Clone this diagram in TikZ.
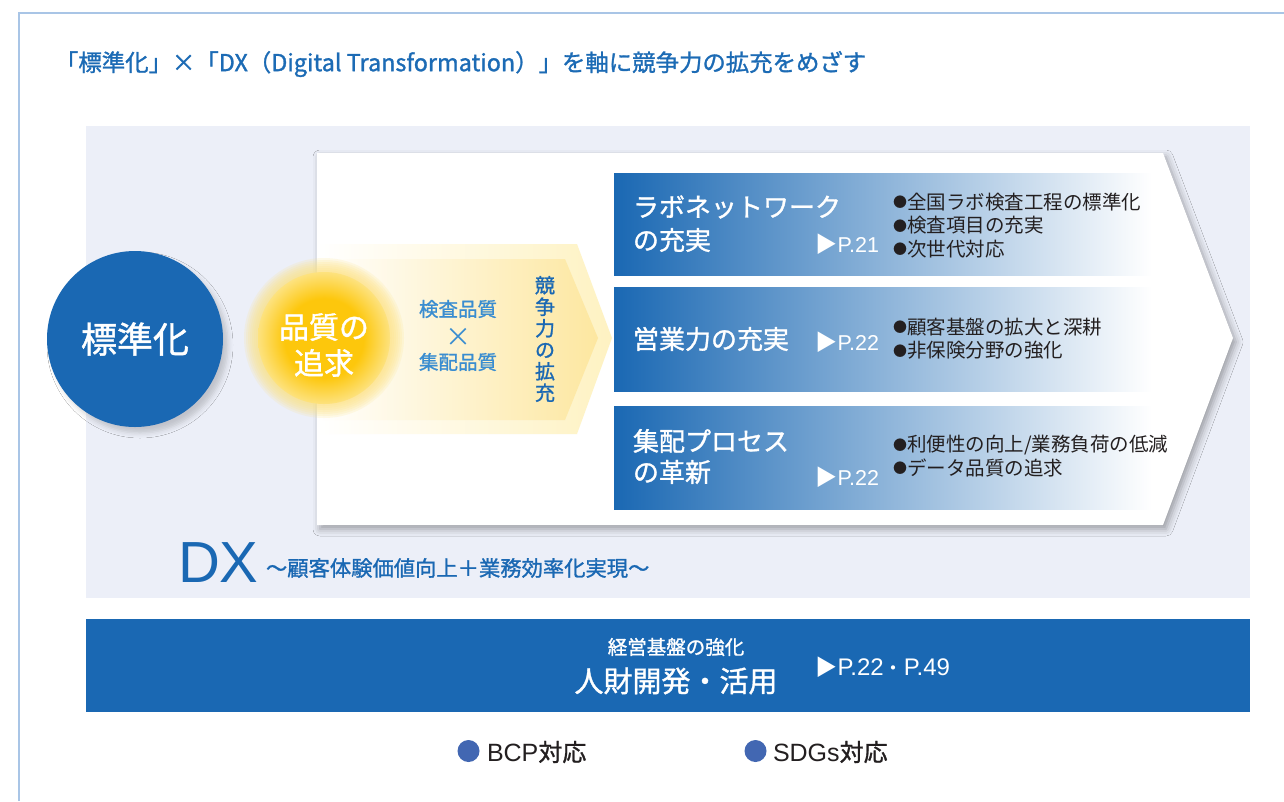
\documentclass[tikz,border=0pt]{standalone}
\usepackage{fontspec}
\setmainfont{Noto Sans CJK JP}
\newfontfamily\jpm{Noto Sans CJK JP}[FakeBold=1.2]
\newfontfamily\lat{Liberation Sans}
\usetikzlibrary{shadows,shadows.blur}
\definecolor{dxblue}{HTML}{1A68B3}
\definecolor{titleblue}{HTML}{1C6BB5}
\definecolor{panelbg}{HTML}{ECEFF8}
\definecolor{framecol}{HTML}{A9C5E6}
\definecolor{ltblue}{HTML}{3A8DD0}
\definecolor{darktext}{HTML}{231F20}
\definecolor{dotblue}{HTML}{4267B2}
\definecolor{goldA}{HTML}{FDC70C}
\definecolor{goldB}{HTML}{FDE27E}
\definecolor{yelA}{HTML}{FEF2C2}
\definecolor{yelB}{HTML}{FDE7A0}
\pgfdeclareradialshading{goldglow}{\pgfpoint{0bp}{0bp}}{color(0bp)=(goldA); color(15bp)=(goldA); color(25bp)=(goldB); color(50bp)=(goldB)}
\newcommand{\fs}[2]{\fontsize{#1}{#2}\selectfont}
\newcommand{\bul}{\makebox[14pt][l]{\raisebox{1.5pt}{\fs{14}{14}●}}}
\newcommand{\tri}{{\rmfamily\fs{22}{22}▶}\kern0.5pt}
\tikzset{
  every node/.style={inner sep=0pt, outer sep=0pt},
  bluebox/.style={left color=dxblue, right color=white},
  boxhead/.style={anchor=west, text=white, font=\jpm\fs{26}{32}, align=left},
  pageref/.style={anchor=west, text=white, font=\lat\fs{21.5}{22}},
  bullets/.style={anchor=west, text=darktext, font=\fs{19.5}{23.5}, align=left},
  mysoftshadow/.style={blur shadow={shadow xshift=3pt, shadow yshift=-4pt, shadow blur radius=7pt, shadow opacity=35}},
}
\begin{document}
\begin{tikzpicture}[x=1pt,y=-1pt]
\useasboundingbox (0,0) rectangle (1284,801);
\fill[white] (0,0) rectangle (1284,801);
% outer frame
\draw[framecol, line width=1.5pt] (19,801) -- (19,13) -- (1284,13);
% title
\node[anchor=west, text=titleblue, font=\jpm\fs{23.4}{27}] (title) at (55,64) {「標準化」×「DX（Digital Transformation）」を軸に競争力の拡充をめざす};
% background panel
\fill[panelbg] (86,126) rectangle (1250,598);
% white chevron
\fill[white, mysoftshadow] (317,153) -- (1163,153) -- (1233,338) -- (1163,525) -- (317,525) -- cycle;
% yellow arrow
\shade[left color=white, right color=yelA] (317,244) -- (577,244) -- (612,338) -- (577,434) -- (317,434) -- cycle;
\shade[left color=white, right color=yelB] (317,259) -- (565,259) -- (598,338) -- (565,420) -- (317,420) -- cycle;
% blue boxes
\shade[bluebox] (614,173) rectangle (1152,275);
\shade[bluebox] (614,287) rectangle (1152,391);
\shade[bluebox] (614,406) rectangle (1152,509);
% standardization circle
\node[circle, fill=dxblue, minimum size=176pt, text=white, font=\jpm\fs{36}{40},
      blur shadow={shadow xshift=5pt, shadow yshift=-6pt, shadow blur radius=5pt, shadow opacity=18}] (std) at (135,339) {標準化};
% quality circle (glow)
\foreach \r in {80,78,...,66} {\fill[goldB, fill opacity=0.16] (324,338) circle (\r);}
\shade[shading=goldglow] (324,338) circle (66);
\node[align=center, text=white, font=\jpm\fs{30}{36}] (quality) at (324,345) {品質の\\追求};
% inspection x collection
\node[text=ltblue, font=\jpm\fs{19.5}{22}] (insp) at (458,309) {検査品質};
\node[text=ltblue, font=\fs{26}{26}] (times) at (458,337) {×};
\node[text=ltblue, font=\jpm\fs{19.5}{22}] (coll) at (458,362) {集配品質};
% vertical text
\node[align=center, text=dxblue, font=\jpm\fs{20}{21.5}] (comp) at (545,339) {競\\争\\力\\の\\拡\\充};
% box 1
\node[boxhead] (b1a) at (633,207) {ラボネットワーク};
\node[boxhead] (b1b) at (633,240) {の充実};
\node[pageref] (p1) at (815,244) {\tri P.21};
\node[bullets] (l1) at (893,225.5) {\bul 全国ラボ検査工程の標準化\\\bul 検査項目の充実\\\bul 次世代対応};
% box 2
\node[boxhead] (b2a) at (633,339) {営業力の充実};
\node[pageref] (p2) at (815,342) {\tri P.22};
\node[bullets] (l2) at (893,338.5) {\bul 顧客基盤の拡大と深耕\\\bul 非保険分野の強化};
% box 3
\node[boxhead] (b3a) at (633,441) {集配プロセス};
\node[boxhead] (b3b) at (633,472) {の革新};
\node[pageref] (p3) at (815,477) {\tri P.22};
\node[bullets] (l3) at (893,456) {\bul 利便性の向上/業務負荷の低減\\\bul データ品質の追求};
% DX
\node[anchor=base west, text=dxblue, font=\lat\fs{58}{60}] (dx) at (178,582) {DX};
\node[anchor=west, text=dxblue, font=\jpm\fs{21.3}{24}] (dxsub) at (266,568) {～顧客体験価値向上＋業務効率化実現～};
% bottom bar
\fill[dxblue] (86,619) rectangle (1250,712);
\node[text=white, font=\jpm\fs{19.5}{22}] (mgmt) at (676,647) {経営基盤の強化};
\node[text=white, font=\jpm\fs{29}{32}] (hr) at (676,681) {人財開発・活用};
\node[pageref, font=\lat\fs{24}{24}] (p4) at (815,667) {\tri P.22{\rmfamily\fs{20}{20}・}P.49};
% BCP / SDGs
\fill[dotblue] (468.5,751) circle (11);
\node[anchor=west, text=darktext, font=\jpm\fs{24}{26}] (bcp) at (487,752) {{\lat\fs{25}{26}BCP}対応};
\fill[dotblue] (755.5,751) circle (11);
\node[anchor=west, text=darktext, font=\jpm\fs{24}{26}] (sdgs) at (773,752) {{\lat\fs{25}{26}SDGs}対応};
\end{tikzpicture}
\end{document}
